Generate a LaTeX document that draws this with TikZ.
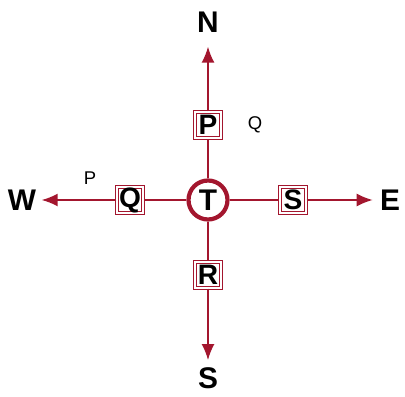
\documentclass[tikz,border=0pt]{standalone}
\usepackage{fontspec}
\setmainfont{Liberation Sans}
\usetikzlibrary{arrows.meta,positioning}
\definecolor{dirred}{HTML}{A3162E}

\begin{document}
\begin{tikzpicture}[
  x=0.02cm,y=0.02cm,
  >=Latex,
  road/.style={-{Latex[length=3.2mm,width=2.6mm]}, line width=.9pt, draw=dirred},
  link/.style={line width=.9pt, draw=dirred},
  spot/.style={draw=dirred, line width=.8pt, double=white, double distance=.7pt, fill=white, minimum size=.52cm, inner sep=0pt, font=\fontsize{16}{16}\selectfont\bfseries},
  hub/.style={circle, draw=dirred, line width=2.4pt, fill=white, minimum size=.78cm, inner sep=0pt, font=\fontsize{17}{17}\selectfont\bfseries},
  dir/.style={font=\fontsize{17}{17}\selectfont\bfseries, inner sep=0pt},
  tag/.style={font=\fontsize{10.5}{10.5}\selectfont, inner sep=0pt},
]
\useasboundingbox (0,0) rectangle (405,396);

% compass ends
\node[dir] (n) at (208,374) {N};
\node[dir] (s) at (208,18) {S};
\node[dir] (w) at (22,196) {W};
\node[dir] (e) at (390,196) {E};

% points on the cross
\node[hub] (t) at (208,196) {T};
\node[spot] (p) at (208,271) {P};
\node[spot] (r) at (208,121) {R};
\node[spot] (q) at (130,196) {Q};
\node[spot] (sb) at (293,196) {S};

\node[tag] (lq) at (255,271) {Q};
\node[tag] (lp) at (90,218) {P};

\draw[link] (t) -- (p);
\draw[link] (t) -- (r);
\draw[link] (t) -- (q);
\draw[link] (t) -- (sb);
\draw[road] (p) -- ([yshift=-8pt]n.south);
\draw[road] (r) -- ([yshift=4pt]s.north);
\draw[road] (q) -- ([xshift=3pt]w.east);
\draw[road] (sb) -- ([xshift=-4pt]e.west);
\end{tikzpicture}
\end{document}
